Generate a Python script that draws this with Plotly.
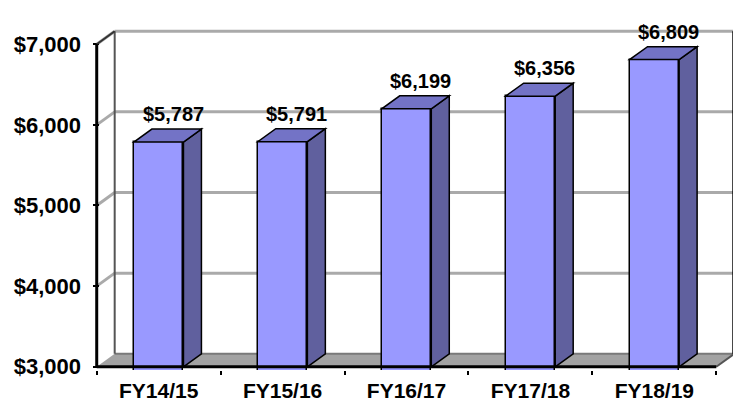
import plotly.graph_objects as go

# ---- data ----
categories = ["FY14/15", "FY15/16", "FY16/17", "FY17/18", "FY18/19"]
values = [5787, 5791, 6199, 6356, 6809]
value_labels = ["$5,787", "$5,791", "$6,199", "$6,356", "$6,809"]
y_tick_vals = [3000, 4000, 5000, 6000, 7000]
y_tick_text = ["$3,000", "$4,000", "$5,000", "$6,000", "$7,000"]

# ---- style ----
DX = 0.145      # depth offset in x (category units)
DY = 161        # depth offset in y (value units)
BW = 0.40       # bar width
FRONT = "#9999FF"
TOP = "#7373C6"
SIDE = "#60609E"
GRID = "#AAAAAA"
FLOOR = "#A3A3A3"
TICKFONT = dict(family="Liberation Sans, Arial, sans-serif", size=22, color="black", weight="bold")
XTICKFONT = dict(family="Liberation Sans, Arial, sans-serif", size=21, color="black", weight="bold")
LABELFONT = dict(family="Liberation Sans, Arial, sans-serif", size=20, color="black", weight="bold")

ymin, ymax = y_tick_vals[0], y_tick_vals[-1]
x0, x1 = -0.5, len(categories) - 0.5
xs = list(range(len(categories)))

fig = go.Figure()
fig.add_trace(go.Bar(x=xs, y=values, width=BW, base=0, marker=dict(color=FRONT, line=dict(color="black", width=1.5)),
                     hoverinfo="skip"))

shapes = []
# floor
shapes.append(dict(type="path", layer="below", xref="x", yref="y",
                   path=f"M {x0} {ymin} L {x1} {ymin} L {x1+DX} {ymin+DY} L {x0+DX} {ymin+DY} Z",
                   fillcolor=FLOOR, line=dict(width=0)))
shapes.append(dict(type="line", layer="below", xref="x", yref="y", x0=x0+DX, x1=x1+DX, y0=ymin+DY, y1=ymin+DY,
                   line=dict(color="#7A7A7A", width=2)))
shapes.append(dict(type="line", layer="below", xref="x", yref="y", x0=x1, x1=x1+DX, y0=ymin, y1=ymin+DY,
                   line=dict(color="#555555", width=2)))
# gridlines on back wall and left wall
for t in y_tick_vals[1:]:
    shapes.append(dict(type="line", layer="below", xref="x", yref="y", x0=x0+DX, x1=x1+DX, y0=t+DY, y1=t+DY,
                       line=dict(color=GRID, width=3)))
    shapes.append(dict(type="line", layer="below", xref="x", yref="y", x0=x0, x1=x0+DX, y0=t, y1=t+DY,
                       line=dict(color=GRID, width=3)))
# left wall back edge
shapes.append(dict(type="line", layer="below", xref="x", yref="y", x0=x0+DX, x1=x0+DX, y0=ymin+DY, y1=ymax+DY,
                   line=dict(color="#555555", width=2)))
# left wall top edge
shapes.append(dict(type="line", layer="above", xref="x", yref="y", x0=x0, x1=x0+DX, y0=ymax, y1=ymax+DY,
                   line=dict(color="#333333", width=2)))
# right wall edge
shapes.append(dict(type="line", layer="above", xref="x", yref="y", x0=x1+DX, x1=x1+DX, y0=ymin+DY, y1=ymax+DY,
                   line=dict(color="black", width=4)))

# bar top and side faces
for i, v in enumerate(values):
    l, r = i - BW / 2, i + BW / 2
    shapes.append(dict(type="path", layer="above", xref="x", yref="y",
                       path=f"M {r} {ymin} L {r+DX} {ymin+DY} L {r+DX} {v+DY} L {r} {v} Z",
                       fillcolor=SIDE, line=dict(color="black", width=1.5)))
    shapes.append(dict(type="path", layer="above", xref="x", yref="y",
                       path=f"M {l} {v} L {r} {v} L {r+DX} {v+DY} L {l+DX} {v+DY} Z",
                       fillcolor=TOP, line=dict(color="black", width=1.5)))

# front axis lines
shapes.append(dict(type="line", layer="above", xref="x", yref="y", x0=x0, x1=x1, y0=ymin, y1=ymin,
                   line=dict(color="black", width=3)))
shapes.append(dict(type="line", layer="above", xref="x", yref="y", x0=x0, x1=x0, y0=ymin, y1=ymax,
                   line=dict(color="black", width=3)))

annotations = []
for i, (v, lab) in enumerate(zip(values, value_labels)):
    annotations.append(dict(x=i + DX * 0.8, y=v + DY, xref="x", yref="y", text=lab, showarrow=False,
                            yanchor="bottom", yshift=2, font=LABELFONT))

# page body has an 8px default margin, so the figure is sized to fit the window
fig.update_layout(
    template="none",
    width=733, height=396,
    margin=dict(l=85, r=3, t=20, b=34),
    paper_bgcolor="white", plot_bgcolor="white",
    showlegend=False,
    shapes=shapes, annotations=annotations,
    bargap=0,
    xaxis=dict(range=[x0 - 0.03, x1 + DX + 0.03], tickvals=xs, ticktext=categories, ticks="",
               automargin=False,
               showgrid=False, zeroline=False, showline=False, tickfont=XTICKFONT, ticklabelstandoff=6,
               minor=dict(tickvals=[x0 + k for k in range(len(categories) + 1)], ticks="outside",
                          ticklen=4, tickwidth=2, tickcolor="black", showgrid=False)),
    yaxis=dict(range=[ymin - 40, ymax + DY + 40], tickvals=y_tick_vals, ticktext=y_tick_text,
               automargin=False,
               ticks="inside", ticklen=6, tickwidth=2, tickcolor="black",
               showgrid=False, zeroline=False, showline=False, tickfont=TICKFONT, ticklabelstandoff=11),
)

fig.write_html("out.html")
